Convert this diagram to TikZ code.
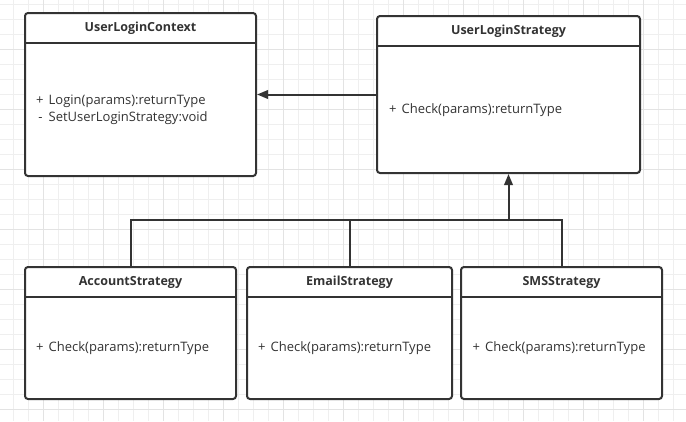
\documentclass[tikz,border=0pt]{standalone}
\usepackage{fontspec}
\setmainfont{Open Sans}
\usetikzlibrary{arrows.meta}

\definecolor{umlline}{HTML}{333333}
\definecolor{gridminor}{HTML}{EFEFEF}
\definecolor{gridmajor}{HTML}{E3E3E3}

\tikzset{
  classbox/.style={draw=umlline, fill=white, line width=2pt, rounded corners=3pt, inner sep=0pt},
  classname/.style={font=\bfseries\fontsize{12.5}{15}\selectfont, text=umlline},
  member/.style={font=\fontsize{13}{17}\selectfont, text=umlline, anchor=west, align=left, inner sep=0pt},
  link/.style={draw=umlline, line width=2pt},
  realize/.style={link, -{Triangle[length=11pt,width=8.5pt]}},
}

\begin{document}
\begin{tikzpicture}[x=1pt,y=-1pt]
  \useasboundingbox (0,0) rectangle (686,421);
  % grid
  \foreach \gx in {13.3,28.3,...,686} \draw[gridminor,line width=0.9pt] (\gx,0) -- (\gx,421);
  \foreach \gy in {4.3,19.3,...,421} \draw[gridminor,line width=0.9pt] (0,\gy) -- (686,\gy);
  \foreach \gx in {43.3,103.3,...,686} \draw[gridmajor,line width=0.9pt] (\gx,0) -- (\gx,421);
  \foreach \gy in {49.3,109.3,...,421} \draw[gridmajor,line width=0.9pt] (0,\gy) -- (686,\gy);

  % context
  \node[classbox, minimum width=231pt, minimum height=163pt] (ctx) at (140.5,94.5) {};
  \node[classname] (ctxname) at (140.5,28) {UserLoginContext};
  \draw[link] (ctx.west |- 0,43) -- (ctx.east |- 0,43);
  \node[member] (ctxops) at (36,109.5) {\makebox[12.5pt][l]{+}Login(params):returnType\\\makebox[12.5pt][l]{\,-}SetUserLoginStrategy:void};

  % strategy interface
  \node[classbox, minimum width=263pt, minimum height=157pt] (strat) at (508.5,94.5) {};
  \node[classname] (stratname) at (508.5,31) {UserLoginStrategy};
  \draw[link] (strat.west |- 0,46) -- (strat.east |- 0,46);
  \node[member] (stratops) at (389,110) {\makebox[12.5pt][l]{+}Check(params):returnType};

  % concrete strategies
  \node[classbox, minimum width=211pt, minimum height=132pt] (acc) at (130.5,333) {};
  \node[classname] (accname) at (130.5,282) {AccountStrategy};
  \draw[link] (acc.west |- 0,297) -- (acc.east |- 0,297);
  \node[member] (accops) at (36,348) {\makebox[12.5pt][l]{+}Check(params):returnType};

  \node[classbox, minimum width=205pt, minimum height=132pt] (email) at (349.5,333) {};
  \node[classname] (emailname) at (349.5,282) {EmailStrategy};
  \draw[link] (email.west |- 0,297) -- (email.east |- 0,297);
  \node[member] (emailops) at (258,348) {\makebox[12.5pt][l]{+}Check(params):returnType};

  \node[classbox, minimum width=201pt, minimum height=132pt] (sms) at (561.5,333) {};
  \node[classname] (smsname) at (561.5,282) {SMSStrategy};
  \draw[link] (sms.west |- 0,297) -- (sms.east |- 0,297);
  \node[member] (smsops) at (472.5,348) {\makebox[12.5pt][l]{+}Check(params):returnType};

  % connectors
  \draw[realize] (strat.west) -- (ctx.east);
  \coordinate (bus) at (strat.south |- 0,220);
  \draw[link] (acc.north) |- (bus) -| (sms.north);
  \draw[link] (email.north) -- (email.north |- bus);
  \draw[realize] (bus) -- (strat.south);
\end{tikzpicture}
\end{document}
